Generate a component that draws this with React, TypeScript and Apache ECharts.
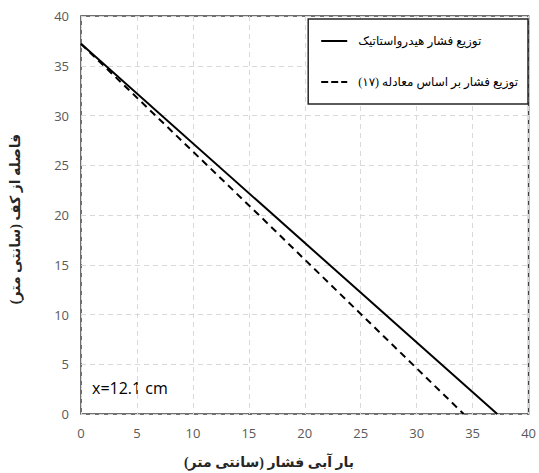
import React, { useEffect, useRef } from "react";
import * as echarts from "echarts";

const RLM = "\u200F";
const seriesNames = ["توزیع فشار هیدرواستاتیک", "توزیع فشار بر اساس معادله (۱۷)" + RLM];
const hydroX = [0, 37.2];
const hydroY = [37.2, 0];
const eqX = [0, 15.9, 34.2];
const eqY = [37.2, 20, 0];
const xTitle = "بار آبی فشار (سانتی متر)" + RLM;
const yTitle = "فاصله از کف (سانتی متر)" + RLM;
const note = "x=12.1 cm";
const axisMin = 0;
const axisMax = 40;
const axisStep = 5;

const persianFont = "'Liberation Serif', 'DejaVu Sans', serif";
const tickFont = "'Open Sans', 'Liberation Sans', sans-serif";

const corners = "M0,0h0.01v0.01h-0.01z M0,13.99h0.01v0.01h-0.01z M25.99,0h0.01v0.01h-0.01z";
const solidIcon = "path://" + corners + " M0,6h26v2H0z";
const dashIcon = "path://" + corners + " M0,6h7v2H0z M10,6h7v2h-7z M20,6h6v2h-6z";

export default function App() {
  const ref = useRef<HTMLDivElement>(null);
  useEffect(() => {
    document.body.style.margin = "0";
    if (!ref.current) return;
    const chart = echarts.init(ref.current, null, { renderer: "svg" });
    const pairs = (xs: number[], ys: number[]) => xs.map((x, i) => [x, ys[i]]);
    chart.setOption({
      animation: false,
      backgroundColor: "#ffffff",
      grid: {
        left: 81,
        right: 7,
        top: 16,
        bottom: 59,
        show: true,
        borderColor: "#404040",
        borderWidth: 1.5,
        backgroundColor: "transparent",
      },
      legend: {
        orient: "vertical",
        right: 11,
        top: 19,
        padding: [15, 10, 15, 13],
        itemGap: 27,
        itemWidth: 26,
        itemHeight: 14,
        backgroundColor: "#ffffff",
        borderColor: "#262626",
        borderWidth: 1.5,
        borderRadius: 0,
        itemStyle: { color: "#000000", borderWidth: 0 },
        textStyle: { fontFamily: persianFont, fontSize: 12, color: "#000000", padding: [0, 0, 0, 6] },
        data: [
          { name: seriesNames[0], icon: solidIcon },
          { name: seriesNames[1], icon: dashIcon },
        ],
      },
      xAxis: {
        type: "value",
        min: axisMin,
        max: axisMax,
        interval: axisStep,
        axisLine: { show: false },
        axisTick: { show: false },
        axisLabel: { color: "#595959", fontSize: 13, fontFamily: tickFont, margin: 12 },
        splitLine: { show: true, lineStyle: { color: "#d9d9d9", type: [5, 4], width: 1 } },
      },
      yAxis: {
        type: "value",
        min: axisMin,
        max: axisMax,
        interval: axisStep,
        axisLine: { show: false },
        axisTick: { show: false },
        axisLabel: { color: "#595959", fontSize: 13, fontFamily: tickFont, margin: 12 },
        splitLine: { show: true, lineStyle: { color: "#d9d9d9", type: [5, 4], width: 1 } },
      },
      series: [
        {
          name: seriesNames[0],
          type: "line",
          data: pairs(hydroX, hydroY),
          showSymbol: false,
          symbol: "none",
          lineStyle: { color: "#000000", width: 2, type: "solid" },
          itemStyle: { color: "#000000" },
        },
        {
          name: seriesNames[1],
          type: "line",
          data: pairs(eqX, eqY),
          showSymbol: false,
          symbol: "none",
          lineStyle: { color: "#000000", width: 2, type: [7, 5] },
          itemStyle: { color: "#000000" },
        },
      ],
      graphic: [
        {
          type: "text",
          x: 269,
          y: 462,
          style: {
            text: xTitle,
            fontFamily: persianFont,
            fontSize: 14,
            fontWeight: "bold",
            fill: "#262626",
            align: "center",
            verticalAlign: "middle",
          },
        },
        {
          type: "text",
          x: 15,
          y: 219,
          rotation: Math.PI / 2,
          style: {
            text: yTitle,
            fontFamily: persianFont,
            fontSize: 14,
            fontWeight: "bold",
            fill: "#262626",
            align: "center",
            verticalAlign: "middle",
          },
        },
        {
          type: "text",
          x: 92,
          y: 388,
          style: {
            text: note,
            fontFamily: tickFont,
            fontSize: 16,
            fill: "#000000",
            align: "left",
            verticalAlign: "middle",
          },
        },
      ],
    });
    return () => chart.dispose();
  }, []);
  return <div ref={ref} style={{ width: 539, height: 473 }} />;
}
